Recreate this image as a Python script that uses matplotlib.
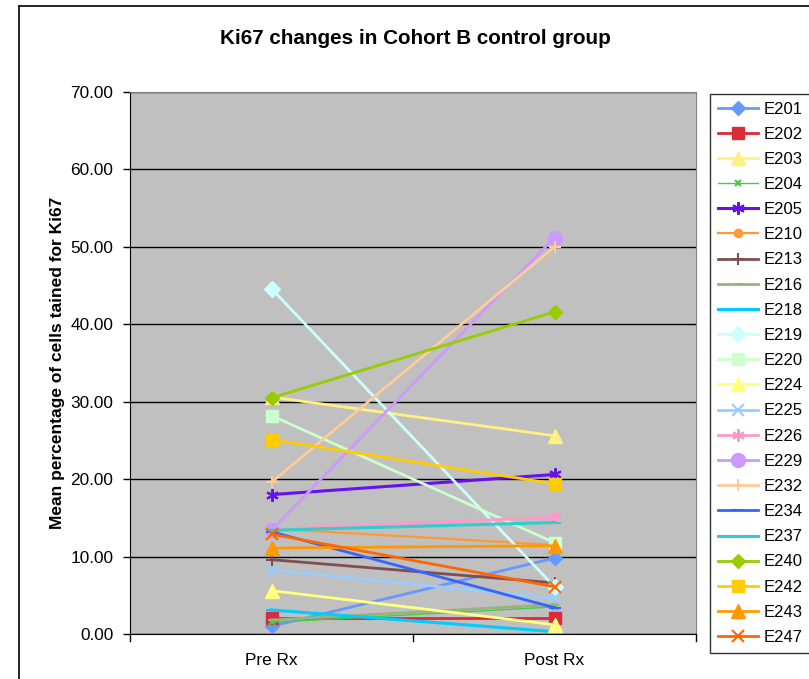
import matplotlib.pyplot as plt
from matplotlib.lines import Line2D

plt.rcParams['font.family'] = ['Liberation Sans', 'DejaVu Sans']

# Ki67 readings per patient, before and after treatment
patients = ['E201', 'E202', 'E203', 'E204', 'E205', 'E210', 'E213', 'E216',
            'E218', 'E219', 'E220', 'E224', 'E225', 'E226', 'E229', 'E232',
            'E234', 'E237', 'E240', 'E242', 'E243', 'E247']
pre_rx = [1.0, 2.1, 30.6, 1.5, 18.0, 13.6, 9.6, 1.8,
          3.1, 44.6, 28.2, 5.6, 8.3, 13.5, 13.4, 19.6,
          13.2, 13.4, 30.5, 25.1, 11.1, 12.9]
post_rx = [9.8, 2.1, 25.6, 3.5, 20.6, 11.5, 6.6, 3.8,
           0.3, 6.1, 11.8, 1.2, 4.6, 15.1, 51.2, 50.0,
           3.4, 14.4, 41.6, 19.4, 11.4, 6.1]
categories = ['Pre Rx', 'Post Rx']

# colour, marker, marker size, line width
styles = {
    'E201': ('#6699FF', 'D', 7, 2.0),
    'E202': ('#DD2A3A', 's', 9, 2.0),
    'E203': ('#FFF080', '^', 10, 2.0),
    'E204': ('#44CC44', 'x', 4, 1.0),
    'E205': ('#6611EE', (6, 2, 0), 9, 2.2),
    'E210': ('#FF9933', 'o', 6, 1.6),
    'E213': ('#7F4F4F', '+', 9, 2.0),
    'E216': ('#99B380', '_', 6, 2.0),
    'E218': ('#00CCFF', '_', 8, 2.2),
    'E219': ('#CCFFFF', 'D', 8, 2.0),
    'E220': ('#CCFFCC', 's', 9, 2.0),
    'E224': ('#FFFF80', '^', 10, 2.0),
    'E225': ('#99CCFF', 'x', 8, 2.0),
    'E226': ('#FF99CC', (6, 2, 0), 9, 2.0),
    'E229': ('#CC99FF', 'o', 10, 2.0),
    'E232': ('#FFCC99', '+', 9, 2.0),
    'E234': ('#3366FF', '_', 8, 2.0),
    'E237': ('#33CCCC', '_', 8, 2.2),
    'E240': ('#99CC00', 'D', 7, 2.0),
    'E242': ('#FFCC00', 's', 9, 2.0),
    'E243': ('#FF9900', '^', 10, 2.0),
    'E247': ('#FF6600', 'x', 8, 2.0),
}

fig = plt.figure(figsize=(8.09, 6.79), dpi=100)
ax = fig.add_axes([130 / 809, 1 - 634 / 679, 566 / 809, 542 / 679])
ax.set_facecolor('#C0C0C0')

x = range(len(categories))
handles = []
for name, a, b in zip(patients, pre_rx, post_rx):
    color, marker, ms, lw = styles[name]
    mew = 1.5 if marker in ('x', '+', '_') or isinstance(marker, tuple) else 1.0
    line, = ax.plot(x, [a, b], color=color, marker=marker, markersize=ms,
                    linewidth=lw, markeredgewidth=mew, markeredgecolor=color,
                    label=name, clip_on=False)
    handles.append(line)

ax.set_xlim(-0.5, 1.5)
ax.set_ylim(0, 70)
ax.set_yticks(range(0, 71, 10))
ax.set_yticklabels([f'{v:.2f}' for v in range(0, 71, 10)], fontsize=12.4)
ax.set_xticks(list(x))
ax.set_xticklabels(categories, fontsize=12.4)
ax.tick_params(axis='x', length=0, pad=14)
ax.tick_params(axis='y', length=5, width=1, direction='out', pad=7)
for xb in (-0.5, 0.5, 1.5):
    ax.plot([xb, xb], [0, -0.9], color='black', lw=1, clip_on=False)

ax.grid(axis='y', color='black', linewidth=1)
ax.set_axisbelow(True)
ax.spines['left'].set_color('black')
ax.spines['bottom'].set_color('black')
ax.spines['top'].set_color('#808080')
ax.spines['right'].set_color('#808080')

ax.set_ylabel('Mean percentage of cells tained for Ki67', fontsize=12.5,
              fontweight='bold', labelpad=4)
fig.text(415 / 809, 1 - 38 / 679, 'Ki67 changes in Cohort B control group',
         ha='center', va='center', fontsize=14.9, fontweight='bold')

leg = fig.legend(handles=handles, loc='upper left',
                 bbox_to_anchor=(710 / 809, 1 - 94 / 679), fontsize=12,
                 frameon=True, fancybox=False, edgecolor='black',
                 borderpad=0.45, labelspacing=0.61, handlelength=2.4,
                 handletextpad=0.35, borderaxespad=0)
leg.get_frame().set_linewidth(1)

# chart frame
fig.add_artist(Line2D([19 / 809, 19 / 809], [0, 1 - 6 / 679], color='black', lw=1.2))
fig.add_artist(Line2D([19 / 809, 1], [1 - 6 / 679, 1 - 6 / 679], color='black', lw=1.2))

fig.savefig('out.png', dpi=100)
